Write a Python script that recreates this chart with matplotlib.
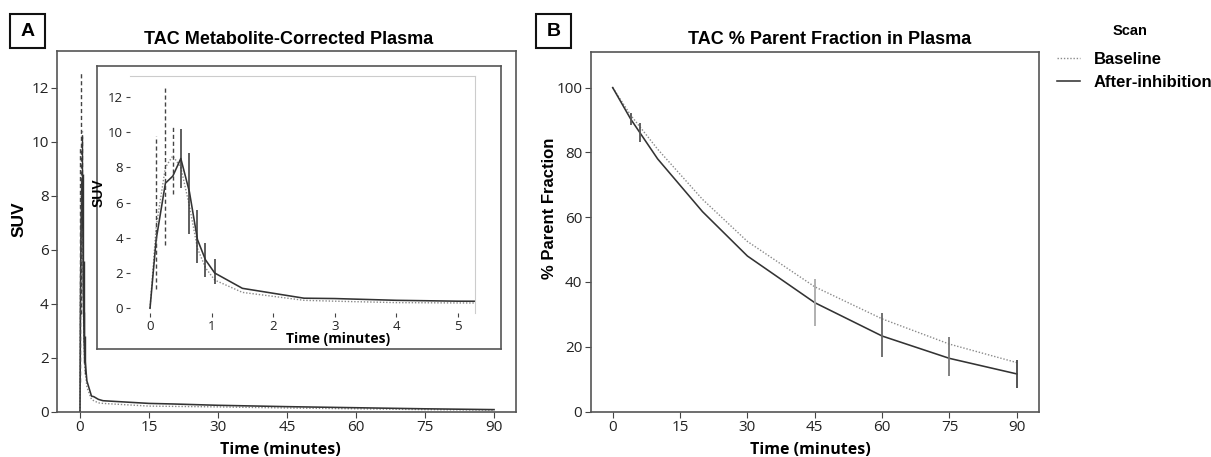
import matplotlib
matplotlib.use("Agg")
import matplotlib.pyplot as plt
from matplotlib.patches import Rectangle

# Panel A: metabolite-corrected plasma TAC (SUV)
tac_time = [0, 0.1, 0.25, 0.37, 0.5, 0.64, 0.77, 0.9, 1.05, 1.5, 2.5, 3, 4, 5,
            10, 15, 20, 30, 45, 60, 75, 90]
baseline_suv = [0, 4.6, 8.0, 8.65, 8.0, 5.8, 3.4, 2.3, 1.6, 0.9, 0.45, 0.4, 0.32, 0.3,
                0.25, 0.2, 0.19, 0.17, 0.13, 0.1, 0.07, 0.05]
after_suv = [0, 3.9, 7.1, 7.5, 8.5, 6.6, 3.9, 2.75, 2.0, 1.13, 0.57, 0.55, 0.45, 0.4,
             0.35, 0.3, 0.28, 0.23, 0.18, 0.14, 0.1, 0.07]

# error bars (low / high ends)
base_err_t = [0.1, 0.25, 0.37]
base_err_lo = [1.1, 3.6, 6.5]
base_err_hi = [9.8, 12.55, 10.4]
after_err_t = [0.5, 0.64, 0.77, 0.9, 1.05]
after_err_lo = [6.8, 4.2, 2.55, 1.8, 1.4]
after_err_hi = [10.2, 8.8, 5.6, 3.7, 2.8]

# Panel B: % parent fraction
pf_time = [0, 4, 6, 10, 20, 30, 45, 60, 75, 90]
baseline_pf = [100, 91.5, 88, 81, 65.5, 52.5, 38.5, 28.6, 20.8, 15.1]
after_pf = [100, 90.3, 86.2, 78, 61.7, 48, 33.6, 23.3, 16.4, 11.6]
pf_err_t = [4, 6, 45, 60, 75, 90]
pf_err_lo = [88.5, 83.3, 26.4, 16.9, 11.0, 7.2]
pf_err_hi = [92.2, 89.0, 40.8, 30.5, 22.9, 15.9]
pf_err_col = ["#555555", "#555555", "#aaaaaa", "#666666", "#777777", "#444444"]

W, H = 1211, 457
BOLD = "Liberation Sans"
TICK = "Open Sans"
BASE_STYLE = dict(color="#8a8a8a", lw=1.0, linestyle=(0, (1, 1.3)))
AFTER_STYLE = dict(color="#333333", lw=1.15, linestyle="-")
EDGE = "#555555"


def rect(l, t, r, b):
    return [l / W, 1 - b / H, (r - l) / W, (b - t) / H]


def style_ticks(ax, size=11, length=4):
    ax.tick_params(length=length, width=0.8, color="#444444", labelsize=size, pad=2)
    for lab in ax.get_xticklabels() + ax.get_yticklabels():
        lab.set_fontfamily(TICK)
        lab.set_color("#222222")


fig = plt.figure(figsize=(W / 100, H / 100), dpi=100)

# ---------------- Panel A ----------------
axA = fig.add_axes(rect(57, 51, 515.7, 411.5))
axA.plot(tac_time, baseline_suv, **BASE_STYLE)
axA.plot(tac_time, after_suv, **AFTER_STYLE)
axA.vlines(base_err_t, base_err_lo, base_err_hi, colors="#444444", lw=1.0, linestyles=(0, (3, 2)))
axA.vlines(after_err_t, after_err_lo, after_err_hi, colors="#333333", lw=1.0)
axA.set_xlim(-5, 94.7)
axA.set_ylim(0, 13.37)
axA.set_xticks(range(0, 91, 15))
axA.set_yticks(range(0, 13, 2))
for s in axA.spines.values():
    s.set_color(EDGE)
    s.set_linewidth(1.2)
style_ticks(axA)
axA.set_xlabel("Time (minutes)", fontfamily=TICK, fontweight="bold", fontsize=11.5)
axA.xaxis.set_label_coords(0.486, -0.085)

# inset frame
box = fig.add_axes(rect(97, 66, 501, 349))
box.set_xticks([])
box.set_yticks([])
for s in box.spines.values():
    s.set_color(EDGE)
    s.set_linewidth(1.2)

# inset
axI = fig.add_axes(rect(130, 75.7, 475, 313))
axI.patch.set_alpha(0)
axI.plot(tac_time, baseline_suv, **BASE_STYLE)
axI.plot(tac_time, after_suv, **AFTER_STYLE)
axI.vlines(base_err_t, base_err_lo, base_err_hi, colors="#444444", lw=1.0, linestyles=(0, (3, 2)))
axI.vlines(after_err_t, after_err_lo, after_err_hi, colors="#333333", lw=1.1)
axI.set_xlim(-0.325, 5.276)
axI.set_ylim(-0.27, 13.2)
axI.set_xticks(range(0, 6))
axI.set_yticks(range(0, 13, 2))
axI.spines["left"].set_visible(False)
axI.spines["bottom"].set_visible(False)
axI.spines["top"].set_color("#cccccc")
axI.spines["right"].set_color("#cccccc")
style_ticks(axI, size=9.5, length=3)
axI.set_xlabel("Time (minutes)", fontfamily=TICK, fontweight="bold", fontsize=10)
axI.xaxis.set_label_coords(0.603, -0.08)
axI.set_ylabel("SUV", fontfamily=BOLD, fontweight="bold", fontsize=10)
axI.yaxis.set_label_coords(-0.07, 0.506)

fig.text(19 / W, 1 - 219 / H, "SUV", rotation=90, ha="center", va="center",
         fontfamily=BOLD, fontweight="bold", fontsize=12.5)
fig.text(289 / W, 1 - 39 / H, "TAC Metabolite-Corrected Plasma", ha="center", va="center",
         fontfamily=BOLD, fontweight="bold", fontsize=13)

# ---------------- Panel B ----------------
axB = fig.add_axes(rect(590.7, 52.3, 1039.3, 411.5))
lb, = axB.plot(pf_time, baseline_pf, **BASE_STYLE)
la, = axB.plot(pf_time, after_pf, **AFTER_STYLE)
axB.vlines(pf_err_t, pf_err_lo, pf_err_hi, colors=pf_err_col, lw=1.3)
axB.set_xlim(-4.9, 95)
axB.set_ylim(0, 110.9)
axB.set_xticks(range(0, 91, 15))
axB.set_yticks(range(0, 101, 20))
for s in axB.spines.values():
    s.set_color(EDGE)
    s.set_linewidth(1.2)
style_ticks(axB)
axB.set_xlabel("Time (minutes)", fontfamily=TICK, fontweight="bold", fontsize=11.5)
axB.xaxis.set_label_coords(0.489, -0.085)

fig.text(549 / W, 1 - 208 / H, "% Parent Fraction", rotation=90, ha="center", va="center",
         fontfamily=BOLD, fontweight="bold", fontsize=12)
fig.text(830 / W, 1 - 39 / H, "TAC % Parent Fraction in Plasma", ha="center", va="center",
         fontfamily=BOLD, fontweight="bold", fontsize=13)

# legend
fig.text(1130 / W, 1 - 31 / H, "Scan", ha="center", va="center",
         fontfamily=BOLD, fontweight="bold", fontsize=10.5)
fig.legend([lb, la], ["Baseline", "After-inhibition"], loc="upper left",
           bbox_to_anchor=(1057 / W, 1 - 52 / H), frameon=False, borderpad=0,
           borderaxespad=0, handlelength=1.4, handletextpad=0.8, labelspacing=0.5,
           prop=dict(family=BOLD, weight="bold", size=12))

# panel letters
for (l, t, letter) in [(10, 14, "A"), (536, 14, "B")]:
    fig.patches.append(Rectangle((l / W, 1 - (t + 34) / H), 35 / W, 34 / H,
                                 transform=fig.transFigure, fill=False,
                                 edgecolor="#111111", lw=1.5))
    fig.text((l + 17.5) / W, 1 - (t + 17) / H, letter, ha="center", va="center",
             fontfamily=BOLD, fontweight="bold", fontsize=14)

fig.savefig("out.png", dpi=100)
